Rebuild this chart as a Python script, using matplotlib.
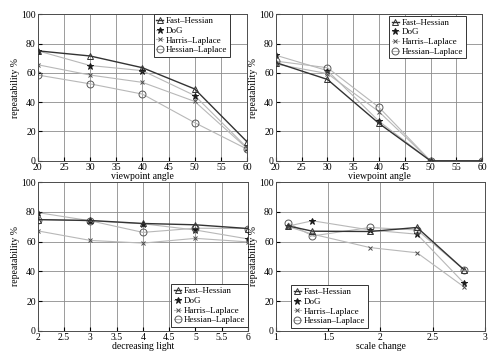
import numpy as np
import matplotlib
matplotlib.use('Agg')
import matplotlib.pyplot as plt

plt.rcParams['font.family'] = ['Liberation Serif', 'DejaVu Serif']
plt.rcParams['font.size'] = 7

names = ['Fast\u2013Hessian', 'DoG', 'Harris\u2013Laplace', 'Hessian\u2013Laplace']

# viewpoint angle (two scenes)
view_x = [20, 30, 40, 50, 60]
view1 = [
    [75, 71.5, 63.5, 49, 13],
    [75, 65, 61.5, 44.5, 9],
    [65.5, 58.5, 53.5, 40.5, 8.5],
    [58.5, 52.5, 45.5, 26, 8],
]
view2 = [
    [67, 55.5, 25.5, 0, 0],
    [72, 61.5, 27, 0, 0],
    [66, 59.5, 33.5, 0, 0],
    [68, 63.5, 36.5, 0, 0],
]

# decreasing light
light_x = [2, 3, 4, 5, 6]
light = [
    [74.8, 74.2, 72.2, 71.3, 68.8],
    [79.5, 74, 72, 67.8, 61.8],
    [67.2, 60.8, 59, 62.2, 59.8],
    [74.8, 74, 66.2, 69, 68.8],
]

# scale change
scale_x = [1.12, 1.35, 1.9, 2.35, 2.8]
scale = [
    [70.5, 67, 66.8, 69.5, 41],
    [70.5, 74, 67.8, 65, 32],
    [70, 65, 56, 52.5, 29.5],
    [72.4, 63.8, 69.5, 67.8, 41],
]

markers = ['^', '*', 'x', 'o']
line_cols = ['0.2', '0.72', '0.72', '0.72']
mark_cols = ['0.2', '0.1', '0.3', '0.35']
sizes = [4.5, 4.5, 3.5, 5]

fig = plt.figure(figsize=(4.98, 3.55), dpi=100)
boxes = [
    [0.076, 0.547, 0.420, 0.413],
    [0.554, 0.547, 0.414, 0.413],
    [0.076, 0.068, 0.422, 0.419],
    [0.554, 0.068, 0.420, 0.419],
]
panels = [
    (view_x, view1, 'viewpoint angle', np.arange(20, 61, 5), 'upper right', (0.92, 1.0)),
    (view_x, view2, 'viewpoint angle', np.arange(20, 61, 5), 'upper right', (0.92, 0.99)),
    (light_x, light, 'decreasing light', np.arange(2, 6.01, 0.5), 'lower right', (1.0, 0.025)),
    (scale_x, scale, 'scale change', np.arange(1, 3.01, 0.5), 'lower left', (0.073, 0.02)),
]

for box, (xs, series, xlab, xt, loc, anchor) in zip(boxes, panels):
    ax = fig.add_axes(box)
    for i, ys in enumerate(series):
        ax.plot(xs, ys, color=line_cols[i], lw=1.0 if i == 0 else 0.8,
                marker=markers[i], ms=sizes[i],
                mfc='none' if markers[i] in ('^', 'o') else mark_cols[i],
                mec=mark_cols[i], mew=0.7, label=names[i], zorder=3 if i == 0 else 2)
    ax.set_xlim(xt[0], xt[-1])
    ax.set_ylim(0, 100)
    ax.set_xticks(xt)
    ax.set_xticklabels(['%g' % v for v in xt])
    ax.set_yticks(np.arange(0, 101, 20))
    ax.grid(True, color='0.55', lw=0.6)
    ax.tick_params(direction='in', length=3, pad=1.5, labelsize=7)
    ax.set_xlabel(xlab, labelpad=0, fontsize=7)
    ax.set_ylabel('repeatability %', labelpad=1, fontsize=7)
    for s in ax.spines.values():
        s.set_color('0.3')
        s.set_linewidth(0.7)
    leg = ax.legend(loc=loc, bbox_to_anchor=anchor, fontsize=6.5, handlelength=0.8,
                    handletextpad=0.3, borderpad=0.3, labelspacing=0.15, fancybox=False,
                    framealpha=1, edgecolor='0.2', borderaxespad=0)
    leg.get_frame().set_linewidth(0.7)

fig.savefig('out.png', dpi=100)
